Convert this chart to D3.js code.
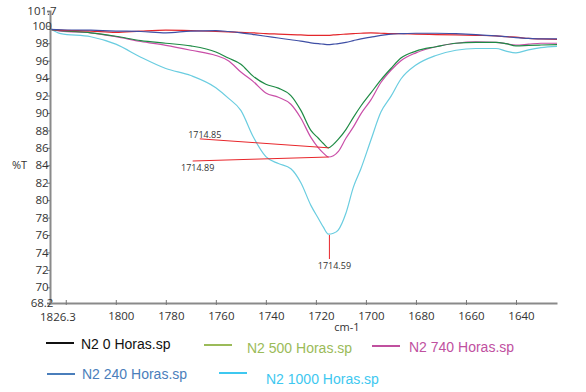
<!DOCTYPE html>
<html>
<head>
<meta charset="utf-8">
<script src="https://cdn.jsdelivr.net/npm/d3@7"></script>
<style>
  body { margin: 0; background: #fff; }
  svg { display: block; }
</style>
</head>
<body>
<svg id="chart" width="586" height="392"></svg>
<script>
const wavenumbers = [1826.3, 1822, 1810, 1800, 1790, 1780, 1770, 1760, 1755, 1750, 1745, 1740, 1735, 1730,
    1726, 1722, 1719, 1717, 1715, 1713, 1711, 1708, 1705, 1702, 1698, 1694, 1690, 1686, 1680,
    1672, 1664, 1656, 1648, 1644, 1640, 1635, 1630, 1623.6];

// %T for each sample
const n2_0 = [99.6, 99.5, 99.4, 99.25, 99.4, 99.5, 99.45, 99.35, 99.3, 99.25, 99.2, 99.1, 99.05, 99.0,
    98.95, 98.9, 98.9, 98.9, 98.9, 98.95, 99.0, 99.05, 99.1, 99.15, 99.2, 99.15, 99.1, 99.1, 99.05,
    99.0, 98.95, 98.9, 98.85, 98.75, 98.7, 98.55, 98.5, 98.45];
const n2_240 = [99.6, 99.55, 99.5, 99.4, 99.35, 99.2, 99.4, 99.45, 99.35, 99.2, 99.0, 98.8, 98.6, 98.4,
    98.25, 98.05, 97.95, 97.9, 97.85, 97.9, 97.95, 98.1, 98.3, 98.5, 98.7, 98.9, 99.05, 99.1, 99.15,
    99.15, 99.1, 99.0, 98.85, 98.75, 98.65, 98.55, 98.5, 98.5];
const n2_500 = [99.6, 99.45, 99.2, 98.8, 98.3, 98.0, 97.7, 97.0, 96.3, 95.6, 94.2, 93.3, 92.85, 92.0,
    90.3, 88.0, 87.1, 86.5, 86.0, 86.4, 87.0, 88.1, 89.5, 90.8, 92.3, 93.8, 95.1, 96.3, 97.1,
    97.6, 98.0, 98.1, 98.1, 97.95, 97.7, 97.75, 97.8, 97.85];
const n2_740 = [99.6, 99.4, 99.2, 98.75, 98.2, 97.75, 97.2, 96.6, 96.0, 94.7, 93.6, 92.3, 91.8, 91.0,
    89.4, 87.2, 86.0, 85.4, 84.95, 85.1, 85.6, 87.1, 88.4, 89.9, 91.5, 93.5, 94.9, 96.0, 96.9,
    97.6, 98.0, 98.15, 98.1, 97.95, 97.8, 97.9, 98.0, 98.0];
const n2_1000 = [99.7, 99.1, 98.75, 97.9, 96.4, 95.1, 94.3, 92.9, 91.7, 90.3, 87.25, 85.0, 84.2, 83.6,
    82.0, 79.4, 77.9, 76.9, 76.1, 76.2, 76.6, 78.5, 81.5, 83.6, 86.9, 90.1, 91.9, 93.9, 95.5,
    96.6, 97.2, 97.4, 97.4, 97.1, 96.9, 97.25, 97.5, 97.65];

const yTicks = [68.2, 70, 72, 74, 76, 78, 80, 82, 84, 86, 88, 90, 92, 94, 96, 98, 100, 101.7];
const xTicks = [1820, 1800, 1780, 1760, 1740, 1720, 1700, 1680, 1660, 1640];

// peak labels
const peaks = [
    {label: "1714.85", wn: 1714.85, t: 86.0},
    {label: "1714.89", wn: 1714.89, t: 84.95},
    {label: "1714.59", wn: 1714.59, t: 76.0}
];

// plot colour, legend colour and legend slot for each series
const series = [
    {name: "N2 1000 Horas.sp", values: n2_1000, color: "#6acde0", legend: "#3ec8f0"},
    {name: "N2 740 Horas.sp", values: n2_740, color: "#c94fa8", legend: "#c0509f"},
    {name: "N2 500 Horas.sp", values: n2_500, color: "#1e8b45", legend: "#9bbb59"},
    {name: "N2 0 Horas.sp", values: n2_0, color: "#e3262b", legend: "#111111"},
    {name: "N2 240 Horas.sp", values: n2_240, color: "#3f4fa5", legend: "#4a7ebb"}
];

const svg = d3.select("#chart");
const tickFont = "'Open Sans', sans-serif";

const x = d3.scaleLinear().domain([1826.3, 1623.6]).range([50, 557]);
const y = d3.scaleLinear().domain([68.2, 101.7]).range([303, 11]);

// traces
const line = d3.line()
    .x(function(d) { return x(d[0]); })
    .y(function(d) { return y(d[1]); })
    .curve(d3.curveMonotoneX);

svg.append("g").selectAll("path")
    .data(series)
    .enter().append("path")
    .attr("d", function(s) { return line(wavenumbers.map(function(w, i) { return [w, s.values[i]]; })); })
    .attr("fill", "none")
    .attr("stroke", function(s) { return s.color; })
    .attr("stroke-width", 1.2);

// y axis
const yAxis = svg.append("g").attr("transform", "translate(50,0)")
    .call(d3.axisLeft(y).tickValues(yTicks).tickSize(3).tickFormat(d3.format("")));
yAxis.select(".domain").attr("stroke", "#8a8a8a").attr("stroke-width", 2);
yAxis.selectAll(".tick line").attr("stroke", "#777");
yAxis.selectAll(".tick text")
    .attr("x", -8).attr("text-anchor", "middle")
    .attr("font-family", tickFont).attr("font-size", 11.5).attr("fill", "#333");

// x axis
const xAxis = svg.append("g").attr("transform", "translate(0,303)")
    .call(d3.axisBottom(x).tickValues(xTicks).tickSizeInner(-3).tickSizeOuter(0)
        .tickFormat(function(d) { return d === 1820 ? "" : d; }));
xAxis.select(".domain").attr("stroke", "#8a8a8a").attr("stroke-width", 2);
xAxis.selectAll(".tick line").attr("stroke", "#777").attr("y2", 2).attr("y1", -3);
xAxis.selectAll(".tick text")
    .attr("dx", 5).attr("y", 9)
    .attr("font-family", tickFont).attr("font-size", 11.5).attr("fill", "#333");
svg.append("text")
    .attr("x", x(1826.3) + 8).attr("y", 321)
    .attr("text-anchor", "middle")
    .attr("font-family", tickFont).attr("font-size", 11.5).attr("fill", "#333")
    .text("1826.3");

// axis titles
svg.append("text").attr("x", 12).attr("y", 169)
    .attr("font-family", tickFont).attr("font-size", 11).attr("fill", "#333").text("%T");
svg.append("text").attr("x", 347).attr("y", 331).attr("text-anchor", "middle")
    .attr("font-family", tickFont).attr("font-size", 11).attr("fill", "#333").text("cm-1");

// peak annotations, label end offset from the peak
const labelOffsets = [
    {lx: -129, ly: -9, tx: -124, ty: -10},
    {lx: -136, ly: 4, tx: -131, ty: 14},
    {lx: 0, ly: 24, tx: 5, ty: 34}
];
peaks.forEach(function(p, i) {
    const px = x(p.wn), py = y(p.t), o = labelOffsets[i];
    svg.append("line")
        .attr("x1", px).attr("y1", py).attr("x2", px + o.lx).attr("y2", py + o.ly)
        .attr("stroke", "#e8262b").attr("stroke-width", 1);
    svg.append("text")
        .attr("x", px + o.tx).attr("y", py + o.ty)
        .attr("text-anchor", "middle")
        .attr("font-family", tickFont).attr("font-size", 9).attr("fill", "#333")
        .text(p.label);
});

// legend: swatch x, text x, swatch y, text baseline
const legendPos = {
    "N2 0 Horas.sp":    [46, 81, 343, 349],
    "N2 500 Horas.sp":  [204, 247, 345, 353],
    "N2 740 Horas.sp":  [372, 409, 346, 352],
    "N2 240 Horas.sp":  [47, 82, 374, 379],
    "N2 1000 Horas.sp": [219, 266, 373, 384]
};
const legend = svg.append("g").selectAll("g")
    .data(series)
    .enter().append("g");
legend.append("line")
    .attr("x1", function(s) { return legendPos[s.name][0]; })
    .attr("x2", function(s) { return legendPos[s.name][0] + 28; })
    .attr("y1", function(s) { return legendPos[s.name][2]; })
    .attr("y2", function(s) { return legendPos[s.name][2]; })
    .attr("stroke", function(s) { return s.legend; })
    .attr("stroke-width", 2);
legend.append("text")
    .attr("x", function(s) { return legendPos[s.name][1]; })
    .attr("y", function(s) { return legendPos[s.name][3]; })
    .attr("font-family", "'Liberation Sans', Arial, sans-serif").attr("font-size", 14)
    .attr("fill", function(s) { return s.legend; })
    .text(function(s) { return s.name; });
</script>
</body>
</html>
